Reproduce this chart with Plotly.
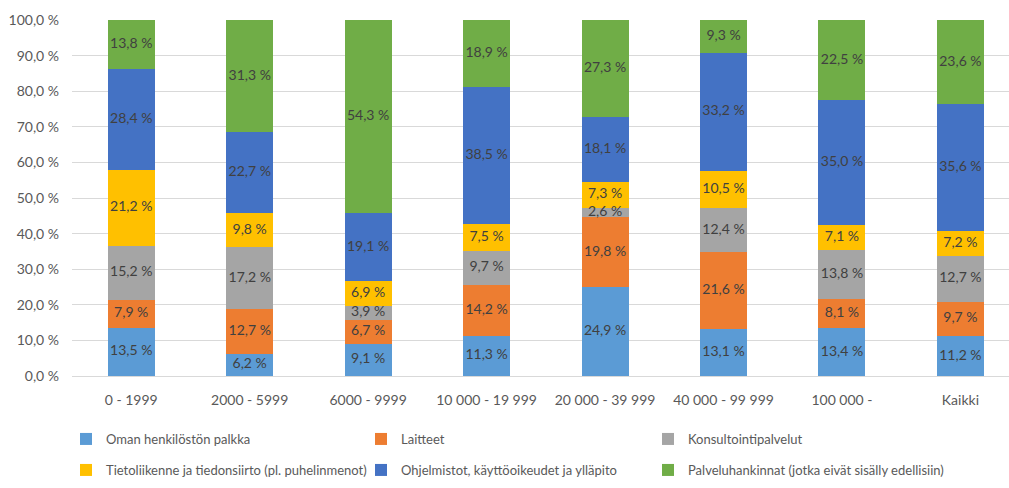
import plotly.graph_objects as go

categories = ["0 - 1999", "2000 - 5999", "6000 - 9999", "10 000 - 19 999",
              "20 000 - 39 999", "40 000 - 99 999", "100 000 -", "Kaikki"]

series_names = [
    "Oman henkilöstön palkka",
    "Laitteet",
    "Konsultointipalvelut",
    "Tietoliikenne ja tiedonsiirto (pl. puhelinmenot)",
    "Ohjelmistot, käyttöoikeudet ja ylläpito",
    "Palveluhankinnat (jotka eivät sisälly edellisiin)",
]

palkka = [13.5, 6.2, 9.1, 11.3, 24.9, 13.1, 13.4, 11.2]
laitteet = [7.9, 12.7, 6.7, 14.2, 19.8, 21.6, 8.1, 9.7]
konsultointi = [15.2, 17.2, 3.9, 9.7, 2.6, 12.4, 13.8, 12.7]
tietoliikenne = [21.2, 9.8, 6.9, 7.5, 7.3, 10.5, 7.1, 7.2]
ohjelmistot = [28.4, 22.7, 19.1, 38.5, 18.1, 33.2, 35.0, 35.6]
palveluhankinnat = [13.8, 31.3, 54.3, 18.9, 27.3, 9.3, 22.5, 23.6]

series_values = [palkka, laitteet, konsultointi, tietoliikenne, ohjelmistot, palveluhankinnat]
colors = ["#5B9BD5", "#ED7D31", "#A5A5A5", "#FFC000", "#4472C4", "#70AD47"]
# legend layout: row 1 / row 2, third column kept in its own legends
legend_ids = ["legend", "legend", "legend3", "legend2", "legend2", "legend4"]

y_tickvals = [0, 10, 20, 30, 40, 50, 60, 70, 80, 90, 100]
y_ticktext = ["0,0 %", "10,0 %", "20,0 %", "30,0 %", "40,0 %", "50,0 %",
              "60,0 %", "70,0 %", "80,0 %", "90,0 %", "100,0 %"]

FONT = "Lato"
GREY = "#595959"
W, H = 1009, 488

fig = go.Figure()
base = [0.0] * len(categories)
for name, vals, col, lg in zip(series_names, series_values, colors, legend_ids):
    fig.add_trace(go.Bar(
        x=categories, y=vals, name=name, legend=lg,
        marker=dict(color=col, line=dict(width=0)),
        hoverinfo="skip",
    ))
    # data labels centred in each stacked segment
    mids = [b + v / 2 for b, v in zip(base, vals)]
    fig.add_trace(go.Scatter(
        x=categories, y=mids, mode="text",
        text=[f"{v:.1f} %".replace(".", ",") for v in vals],
        textposition="middle center",
        textfont=dict(family=FONT, size=14, color="#404040"),
        showlegend=False, hoverinfo="skip", cliponaxis=False,
    ))
    base = [b + v for b, v in zip(base, vals)]

legend_common = dict(
    orientation="h", xref="container", yref="container",
    xanchor="left", yanchor="middle",
    font=dict(family=FONT, size=13, color=GREY),
    traceorder="normal", itemclick=False, itemdoubleclick=False,
    bgcolor="rgba(0,0,0,0)",
)
row1_y = 1 - 439 / H
row2_y = 1 - 470 / H
col1_x = 66 / W
col3_x = 648 / W

fig.update_layout(
    barmode="stack",
    bargap=0.603,
    width=W, height=H,
    margin=dict(l=72, r=0, t=20, b=112, autoexpand=False),
    paper_bgcolor="white", plot_bgcolor="white",
    font=dict(family=FONT, size=14, color=GREY),
    showlegend=True,
    legend=dict(x=col1_x, y=row1_y, entrywidth=250, entrywidthmode="pixels", **legend_common),
    legend2=dict(x=col1_x, y=row2_y, entrywidth=250, entrywidthmode="pixels", **legend_common),
    legend3=dict(x=col3_x, y=row1_y, **legend_common),
    legend4=dict(x=col3_x, y=row2_y, **legend_common),
    xaxis=dict(
        range=[-0.5, 7.41], showgrid=False, showline=False, ticks="",
        ticklabelstandoff=14,
        tickfont=dict(family=FONT, size=14, color=GREY),
    ),
    yaxis=dict(
        range=[0, 100], tickvals=y_tickvals, ticktext=y_ticktext,
        showgrid=True, gridcolor="#D9D9D9", gridwidth=1,
        zeroline=True, zerolinecolor="#D9D9D9", zerolinewidth=1,
        showline=False, ticks="", ticklabelstandoff=12,
        tickfont=dict(family=FONT, size=14, color=GREY),
    ),
)

fig.write_html("out.html", config={"displayModeBar": False},
               post_script="document.body.style.margin='0';")
